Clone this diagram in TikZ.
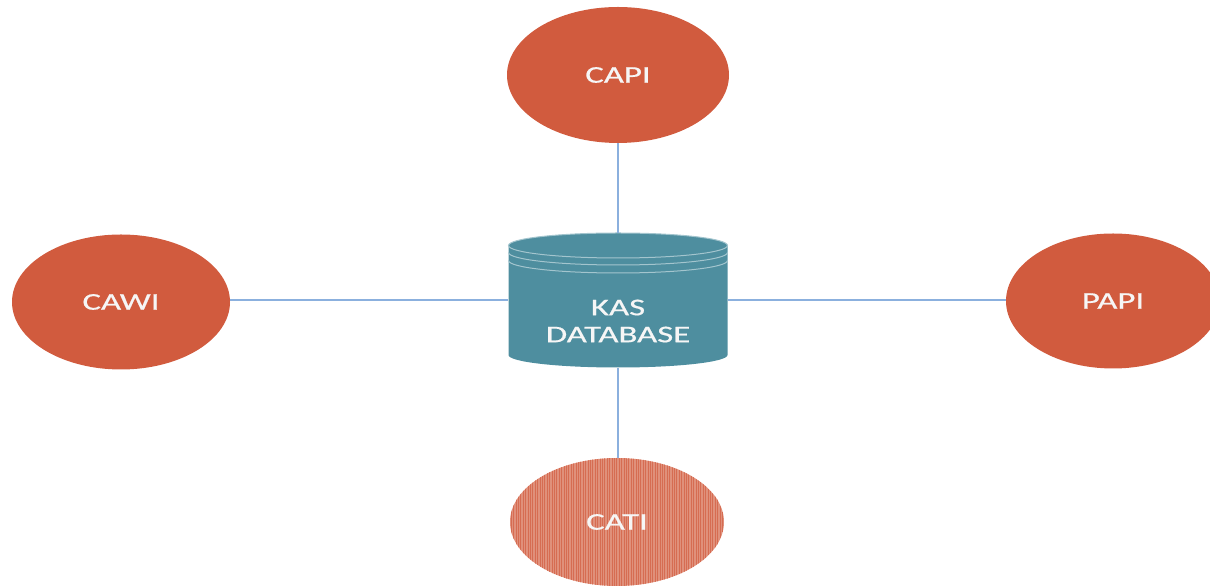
\documentclass[tikz,border=0pt]{standalone}
\usepackage{fontspec}
\newfontfamily\diagfont[FakeStretch=1.45,FakeBold=0.6]{Carlito}
\usetikzlibrary{shapes.geometric,patterns.meta}
\definecolor{modeorange}{HTML}{D15B3E}
\definecolor{modelight}{HTML}{E0907B}
\definecolor{modestripe}{HTML}{D66C52}
\definecolor{dbteal}{HTML}{4E8E9F}
\definecolor{dbrim}{HTML}{A3C5CE}
\definecolor{linkblue}{HTML}{8BB0DE}
\definecolor{labelwhite}{HTML}{F6F6F6}

\begin{document}
\begin{tikzpicture}[x=0.5pt,y=0.5pt,
    mode/.style={ellipse,fill=modeorange,inner sep=0pt,text=labelwhite,
      font=\diagfont\fontsize{12}{13}\selectfont},
    dbtext/.style={align=center,text=labelwhite,inner sep=0pt,
      font=\diagfont\fontsize{12}{13.5}\selectfont},
    link/.style={draw=linkblue,line width=0.8pt}]
  \useasboundingbox (0,0) rectangle (1210,588);

  % survey modes round the database
  \node[mode,minimum width=111pt,minimum height=68pt] (capi) at (618,513) {CAPI};
  \node[mode,minimum width=109pt,minimum height=67.5pt] (cawi) at (121,286) {CAWI};
  \node[mode,minimum width=107pt,minimum height=67.5pt] (papi) at (1113,287) {PAPI};
  \node[mode,minimum width=107pt,minimum height=64pt,fill=modelight,
    postaction={pattern={Lines[angle=90,distance=1.2pt,line width=0.5pt]},pattern color=modestripe}]
    (cati) at (617,66) {CATI};

  % database cylinder
  \node[minimum width=109.5pt,minimum height=67.25pt,inner sep=0pt] (db) at (618,287.75) {};
  \fill[dbteal] (508.5,342.5) -- (508.5,233)
    arc[start angle=180,end angle=360,x radius=54.75pt,y radius=6.25pt] -- (727.5,342.5)
    arc[start angle=0,end angle=180,x radius=54.75pt,y radius=6.25pt] -- cycle;
  \draw[dbrim,line width=0.5pt] (618,342.5) ellipse[x radius=54.75pt,y radius=6.25pt];
  \draw[dbrim,line width=0.5pt] (508.5,335.5) arc[start angle=180,end angle=360,x radius=54.75pt,y radius=6.25pt];
  \draw[dbrim,line width=0.5pt] (508.5,327.5) arc[start angle=180,end angle=360,x radius=54.75pt,y radius=6.25pt];
  \node[dbtext] (dbname) at ([yshift=-10.4pt]db.center) {KAS\\DATABASE};

  % links
  \draw[link] (capi.south) -- (capi.south |- db.north);
  \draw[link] (db.south) -- (db.south |- cati.north);
  \draw[link] (db.west -| cawi.east) -- (db.west);
  \draw[link] (db.east) -- (db.east -| papi.west);
\end{tikzpicture}
\end{document}
